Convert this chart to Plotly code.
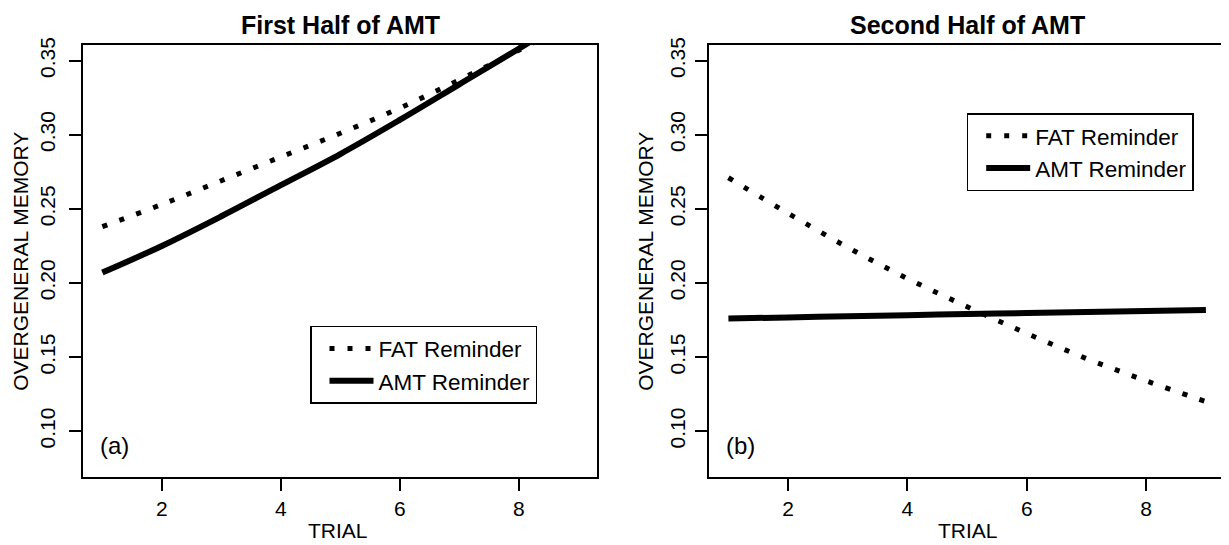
import plotly.graph_objects as go

# ---------------- data ----------------
trial = [1, 2, 3, 4, 5, 6, 7, 8, 9]
first_fat = [0.238, 0.253, 0.269, 0.285, 0.301, 0.318, 0.337, 0.357, 0.378]
first_amt = [0.207, 0.225, 0.245, 0.266, 0.287, 0.310, 0.334, 0.358, 0.383]
second_fat = [0.271, 0.247, 0.224, 0.203, 0.184, 0.166, 0.149, 0.134, 0.120]
second_amt = [0.1760, 0.1768, 0.1775, 0.1783, 0.1790, 0.1797, 0.1804, 0.1811, 0.1818]
series_names = ["FAT Reminder", "AMT Reminder"]
panel_titles = ["First Half of AMT", "Second Half of AMT"]
panel_tags = ["(a)", "(b)"]
x_ticks = [2, 4, 6, 8]
y_ticks = [0.10, 0.15, 0.20, 0.25, 0.30, 0.35]
x_label = "TRIAL"
y_label = "OVERGENERAL MEMORY"

# page is 1229x545; the browser body has an 8px margin at the top-left
OFF = 8
W, H = 1229 - OFF, 545 - OFF
FONT = "Liberation Sans, Arial, Helvetica, sans-serif"

fig = go.Figure()


def px_x(p):
    return (p - OFF) / W


def px_y(p):
    return 1 - (p - OFF) / H


dot = "5px,13px"
fat_line = dict(color="black", width=5, dash=dot, shape="spline")
amt_line = dict(color="black", width=6, shape="spline")

# panel 1
fig.add_trace(go.Scatter(x=trial, y=first_fat, mode="lines", name=series_names[0],
                         line=fat_line, xaxis="x", yaxis="y", legend="legend"))
fig.add_trace(go.Scatter(x=trial, y=first_amt, mode="lines", name=series_names[1],
                         line=amt_line, xaxis="x", yaxis="y", legend="legend"))
# panel 2
fig.add_trace(go.Scatter(x=trial, y=second_fat, mode="lines", name=series_names[0],
                         line=fat_line, xaxis="x2", yaxis="y2", legend="legend2"))
fig.add_trace(go.Scatter(x=trial, y=second_amt, mode="lines", name=series_names[1],
                         line=amt_line, xaxis="x2", yaxis="y2", legend="legend2"))

xr = [0.68, 9.32]
yr = [0.0692, 0.3608]

axis_common = dict(showline=True, mirror=True, linecolor="black", linewidth=2,
                   ticks="outside", ticklen=12, tickwidth=1.5, tickcolor="black",
                   showgrid=False, zeroline=False,
                   tickfont=dict(family=FONT, size=21, color="black"))

ydom = [px_y(476), px_y(38)]

legend_common = dict(xanchor="left", yanchor="top",
                     bordercolor="black", borderwidth=1.5, bgcolor="white",
                     itemwidth=44, indentation=13,
                     font=dict(family=FONT, size=22.5, color="black"),
                     tracegroupgap=0)

fig.update_layout(
    width=W, height=H, autosize=False,
    margin=dict(l=0, r=0, t=0, b=0),
    paper_bgcolor="white", plot_bgcolor="white",
    font=dict(family=FONT, color="black"),
    xaxis=dict(domain=[px_x(83.3), px_x(597.3)], range=xr, tickvals=x_ticks,
               anchor="y", **axis_common),
    yaxis=dict(domain=ydom, range=yr, tickvals=y_ticks, tickformat=".2f", tickangle=-90,
               anchor="x", ticklabelstandoff=6, **axis_common),
    xaxis2=dict(domain=[px_x(709.3), px_x(1225)], range=xr, tickvals=x_ticks,
                anchor="y2", **axis_common),
    yaxis2=dict(domain=ydom, range=yr, tickvals=y_ticks, tickformat=".2f", tickangle=-90,
                anchor="x2", ticklabelstandoff=2, **axis_common),
    legend=dict(x=px_x(310), y=px_y(323), **legend_common),
    legend2=dict(x=px_x(966.7), y=px_y(107.5), **legend_common),
    showlegend=True,
)

# panel titles
for cx, t in zip([340.3, 967.2], panel_titles):
    fig.add_annotation(x=px_x(cx), y=px_y(8), xref="paper", yref="paper",
                       text="<b>%s</b>" % t, showarrow=False,
                       font=dict(family=FONT, size=25, color="black"),
                       xanchor="center", yanchor="top", yshift=6)

# axis titles
for cx in [338.0, 968.0]:
    fig.add_annotation(x=px_x(cx), y=px_y(530), xref="paper", yref="paper",
                       text=x_label, showarrow=False,
                       font=dict(family=FONT, size=21, color="black"),
                       xanchor="center", yanchor="middle")
for cx in [21.0, 646.0]:
    fig.add_annotation(x=px_x(cx), y=px_y(258), xref="paper", yref="paper",
                       text=y_label, showarrow=False, textangle=-90,
                       font=dict(family=FONT, size=21, color="black"),
                       xanchor="center", yanchor="middle")

# panel tags
for xa, ya, t in [("x", "y", panel_tags[0]), ("x2", "y2", panel_tags[1])]:
    fig.add_annotation(x=1.21, y=0.0905, xref=xa, yref=ya, text=t, showarrow=False,
                       font=dict(family=FONT, size=24, color="black"),
                       xanchor="center", yanchor="middle")

fig.write_html("out.html")
